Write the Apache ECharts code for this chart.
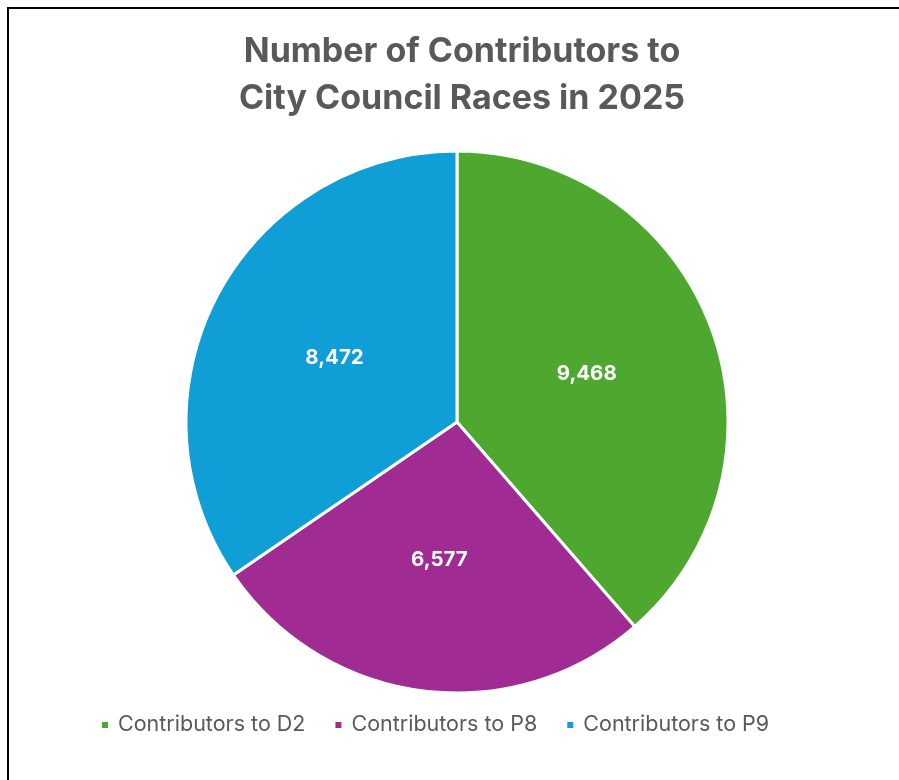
<!DOCTYPE html>
<html>
<head>
<meta charset="utf-8">
<script src="https://cdn.jsdelivr.net/npm/echarts@6/dist/echarts.min.js"></script>
<style>
  html, body { margin: 0; padding: 0; background: #fff; overflow: hidden; }
  #frame { position: absolute; left: 7px; top: 7px; width: 1000px; height: 1000px; border: 2px solid #000; box-sizing: border-box; }
  #chart { position: absolute; left: 0; top: 0; width: 899px; height: 780px; }
</style>
</head>
<body>
<div id="frame"></div>
<div id="chart"></div>
<script>
// Contributor counts per council race
const categories = ['Contributors to D2', 'Contributors to P8', 'Contributors to P9'];
const contributors = [9468, 6577, 8472];
const colors = ['#4EA72E', '#A02B93', '#0F9ED5'];

const chart = echarts.init(document.getElementById('chart'), null, { renderer: 'canvas' });

const fmt = v => v.toLocaleString('en-US');

chart.setOption({
  animation: false,
  title: {
    text: 'Number of Contributors to\nCity Council Races in 2025',
    left: 457,
    top: 23,
    textAlign: 'center',
    textStyle: {
      fontFamily: 'Inter',
      fontWeight: 'bold',
      fontSize: 34,
      lineHeight: 47,
      color: '#595959'
    }
  },
  legend: {
    left: 95,
    top: 709,
    icon: 'rect',
    itemWidth: 8,
    itemHeight: 8,
    itemGap: 28,
    textStyle: {
      fontFamily: 'Inter',
      fontSize: 21.5,
      color: '#595959',
      padding: [0, 0, 0, 4]
    },
    data: categories
  },
  series: [{
    type: 'pie',
    center: [457, 422],
    radius: [0, 271],
    startAngle: 90,
    clockwise: true,
    avoidLabelOverlap: false,
    itemStyle: { borderColor: '#fff', borderWidth: 3 },
    label: {
      show: true,
      position: 'inside',
      formatter: p => fmt(p.value),
      fontFamily: 'Inter',
      fontWeight: 'bold',
      fontSize: 20.5,
      color: '#fff'
    },
    labelLine: { show: false },
    emphasis: { disabled: true },
    data: categories.map((name, i) => ({
      name: name,
      value: contributors[i],
      itemStyle: { color: colors[i] }
    }))
  }]
});
</script>
</body>
</html>
